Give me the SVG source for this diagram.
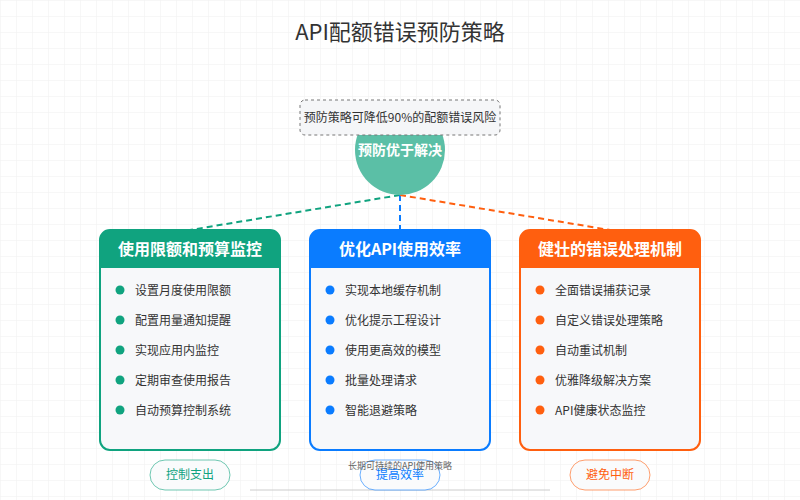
<svg xmlns="http://www.w3.org/2000/svg" width="800" height="500" viewBox="0 0 800 500">
<defs>
<pattern id="grid" width="16" height="16" patternUnits="userSpaceOnUse"><path d="M16 0H0V16" fill="none" stroke="#f0f0f0" stroke-width="1"/></pattern>
</defs>
<style>
text{font-family:"Noto Sans CJK SC","Liberation Sans",sans-serif}
.title{font-size:22px;fill:#333;text-anchor:middle}
.hd{font-size:16px;font-weight:bold;fill:#fff;text-anchor:middle}
.it{font-size:12px;fill:#333}
.card{fill:#f7f8fa;stroke-width:2}
.bd{font-size:12px;text-anchor:middle}
</style>
<rect width="800" height="500" fill="#fff"/>
<rect width="800" height="500" fill="url(#grid)"/>
<text class="title" x="400" y="40">API配额错误预防策略</text>
<g id="connectors" fill="none" stroke-width="2" stroke-dasharray="6,4">
<line x1="400" y1="195" x2="190" y2="230" stroke="#10a37f"/>
<line x1="400" y1="195" x2="400" y2="230" stroke="#0a7cff"/>
<line x1="400" y1="195" x2="610" y2="230" stroke="#ff5f0f"/>
</g>
<g id="center">
<circle cx="400" cy="150" r="45" fill="#5bbfa6"/>
<rect x="300" y="100" width="200" height="35" rx="5" fill="#f5f6f8" stroke="#777" stroke-dasharray="3,3"/>
<text x="400" y="122" font-size="12" fill="#333" text-anchor="middle">预防策略可降低90%的配额错误风险</text>
<text x="400" y="155" font-size="14" font-weight="bold" fill="#fff" text-anchor="middle">预防优于解决</text>
</g>
<g id="card1">
<rect class="card" x="100" y="230" width="180" height="220" rx="10" stroke="#10a37f"/>
<path d="M110 230H270A10 10 0 0 1 280 240V268H100V240A10 10 0 0 1 110 230Z" fill="#10a37f"/>
<text class="hd" x="190" y="255">使用限额和预算监控</text>
<g fill="#10a37f"><circle cx="120" cy="290" r="4.5"/><circle cx="120" cy="320" r="4.5"/><circle cx="120" cy="350" r="4.5"/><circle cx="120" cy="380" r="4.5"/><circle cx="120" cy="410" r="4.5"/></g>
<text class="it" x="135" y="295">设置月度使用限额</text>
<text class="it" x="135" y="325">配置用量通知提醒</text>
<text class="it" x="135" y="355">实现应用内监控</text>
<text class="it" x="135" y="385">定期审查使用报告</text>
<text class="it" x="135" y="415">自动预算控制系统</text>
</g>
<g id="card2">
<rect class="card" x="310" y="230" width="180" height="220" rx="10" stroke="#0a7cff"/>
<path d="M320 230H480A10 10 0 0 1 490 240V268H310V240A10 10 0 0 1 320 230Z" fill="#0a7cff"/>
<text class="hd" x="400" y="255">优化API使用效率</text>
<g fill="#0a7cff"><circle cx="330" cy="290" r="4.5"/><circle cx="330" cy="320" r="4.5"/><circle cx="330" cy="350" r="4.5"/><circle cx="330" cy="380" r="4.5"/><circle cx="330" cy="410" r="4.5"/></g>
<text class="it" x="345" y="295">实现本地缓存机制</text>
<text class="it" x="345" y="325">优化提示工程设计</text>
<text class="it" x="345" y="355">使用更高效的模型</text>
<text class="it" x="345" y="385">批量处理请求</text>
<text class="it" x="345" y="415">智能退避策略</text>
</g>
<g id="card3">
<rect class="card" x="520" y="230" width="180" height="220" rx="10" stroke="#ff5f0f"/>
<path d="M530 230H690A10 10 0 0 1 700 240V268H520V240A10 10 0 0 1 530 230Z" fill="#ff5f0f"/>
<text class="hd" x="610" y="255">健壮的错误处理机制</text>
<g fill="#ff5f0f"><circle cx="540" cy="290" r="4.5"/><circle cx="540" cy="320" r="4.5"/><circle cx="540" cy="350" r="4.5"/><circle cx="540" cy="380" r="4.5"/><circle cx="540" cy="410" r="4.5"/></g>
<text class="it" x="555" y="295">全面错误捕获记录</text>
<text class="it" x="555" y="325">自定义错误处理策略</text>
<text class="it" x="555" y="355">自动重试机制</text>
<text class="it" x="555" y="385">优雅降级解决方案</text>
<text class="it" x="555" y="415">API健康状态监控</text>
</g>
<line x1="250" y1="490" x2="550" y2="490" stroke="#ccc"/>
<g id="badge1"><rect x="150" y="460" width="80" height="30" rx="15" fill="#fafbfc" stroke="#10a37f" stroke-opacity="0.6"/><text class="bd" x="190" y="479" fill="#10a37f">控制支出</text></g>
<g id="badge2"><rect x="360" y="460" width="80" height="30" rx="15" fill="#fafbfc" stroke="#0a7cff" stroke-opacity="0.6"/><text class="bd" x="400" y="479" fill="#0a7cff">提高效率</text></g>
<g id="badge3"><rect x="570" y="460" width="80" height="30" rx="15" fill="#fafbfc" stroke="#ff5f0f" stroke-opacity="0.6"/><text class="bd" x="610" y="479" fill="#ff5f0f">避免中断</text></g>
<text x="400" y="469" font-size="9" fill="#666" text-anchor="middle">长期可持续的API使用策略</text>
</svg>
